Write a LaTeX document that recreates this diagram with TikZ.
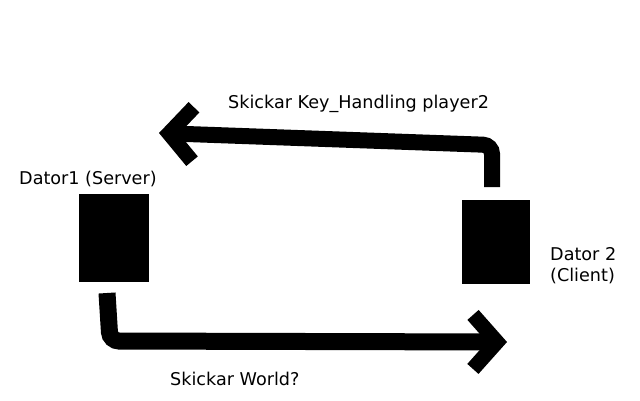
\documentclass[tikz,border=0pt]{standalone}
\usepackage{fontspec}
\setmainfont{DejaVu Sans}
\usetikzlibrary{arrows.meta}

\begin{document}
\begin{tikzpicture}
[
x=1pt, y=-1pt,
every node/.style={font=\fontsize{17.6}{20.5}\selectfont, inner sep=0pt},
Computer/.style={rectangle, draw=black, fill=black, thin},
Thickarrow/.style={-{Straight Barb[length=24pt,width=54pt,line width=15pt]}, draw=black, line width=16pt, rounded corners=9pt},
Label/.style={anchor=base west, align=left},
]

\useasboundingbox (0,0) rectangle (640,400);

\node[Computer, minimum width=69pt, minimum height=87pt] (server) at (114,238) {};
\node[Computer, minimum width=67pt, minimum height=83pt] (client) at (496,242) {};

\coordinate (keystart) at (492,187);
\coordinate (keyend) at (159,133);
\coordinate (worldstart) at (107,293);
\coordinate (worldend) at (507,342);

\draw[Thickarrow] (keystart) -- (492,145) -- (keyend);
\draw[Thickarrow, line width=17pt] (worldstart) -- (110,341) -- (worldend);

\node[Label] (serverlabel) at (19,184) {Dator1 (Server)};
\node[Label] (clientlabel) at (550,281) {Dator 2\\(Client)};
\node[Label] (keylabel) at (228,108) {Skickar Key\_Handling player2};
\node[Label] (worldlabel) at (170,385) {Skickar World?};

\end{tikzpicture}
\end{document}
